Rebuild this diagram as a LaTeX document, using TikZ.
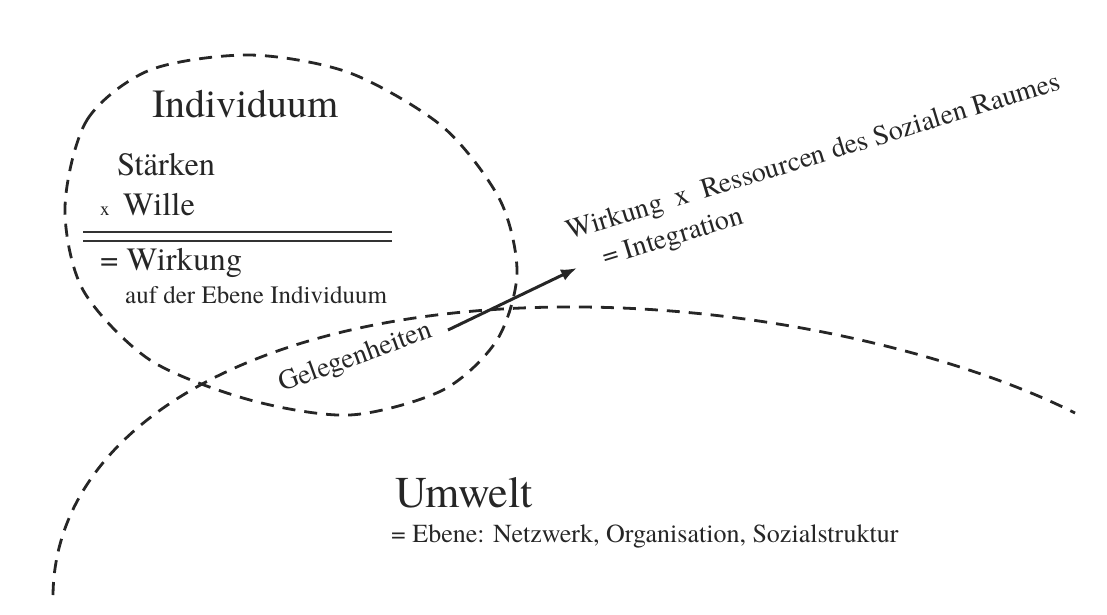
\documentclass[tikz,border=0pt]{standalone}
\usepackage{fontspec}
\setmainfont{TeX Gyre Termes}
\usetikzlibrary{arrows.meta}

\begin{document}
\begin{tikzpicture}[
  x=1pt,y=-1pt,
  txt/.style={inner sep=0pt,anchor=base west,text=black!85},
  big/.style={txt,font=\fontsize{40}{48}\selectfont},
  mid/.style={txt,font=\fontsize{32.5}{38}\selectfont},
  lab/.style={txt,font=\fontsize{28}{34}\selectfont},
  small/.style={txt,font=\fontsize{25}{30}\selectfont},
  tiny/.style={txt,font=\fontsize{19}{23}\selectfont},
  dashline/.style={draw=black!85,line width=2.8pt,dash pattern=on 13pt off 9pt},
  rule/.style={draw=black!80,line width=1.3pt},
  arrow/.style={-{Latex[length=16pt,width=12pt]},draw=black!85,line width=3pt}
]
\useasboundingbox (0,0) rectangle (1107,614);

% Individuum
\draw[dashline] plot[smooth cycle] coordinates {
  (65,207) (87,120) (150,70) (250,55) (350,73) (443,127) (500,200)
  (517,273) (497,340) (443,390) (350,415) (250,400) (150,360) (83,290)};

% Umwelt
\draw[dashline] (53,595) .. controls (55,430) and (250,310) .. (560,307)
  .. controls (760,305) and (960,355) .. (1075,413);

\node[big] (indiv) at (152,117) {Individuum};
\node[mid] (staerken) at (117,175) {Stärken};
\node[tiny] (mal) at (100,215) {x};
\node[mid] (wille) at (123,215) {Wille};
\draw[rule] (83,232) -- (392,232);
\draw[rule] (83,241) -- (392,241);
\node[mid] (wirkung) at (100,270) {= Wirkung};
\node[small] (ebene) at (125,303) {auf der Ebene Individuum};

\node[lab,rotate=20] (gelegen) at (282,392) {Gelegenheiten};
\coordinate (tail) at (448,330);
\coordinate (tip) at (577,268);
\draw[arrow] (tail) -- (tip);

\node[lab,rotate=17] (ressourcen) at (569,240) {Wirkung~~x~~Ressourcen des Sozialen Raumes};
\node[lab,rotate=17] (integ) at (605,266) {= Integration};

\node[big,font=\fontsize{44}{52}\selectfont] (umwelt) at (395,507) {Umwelt};
\node[small,font=\fontsize{26}{31}\selectfont] (umwebene) at (391,542) {= Ebene: Netzwerk, Organisation, Sozialstruktur};
\end{tikzpicture}
\end{document}
